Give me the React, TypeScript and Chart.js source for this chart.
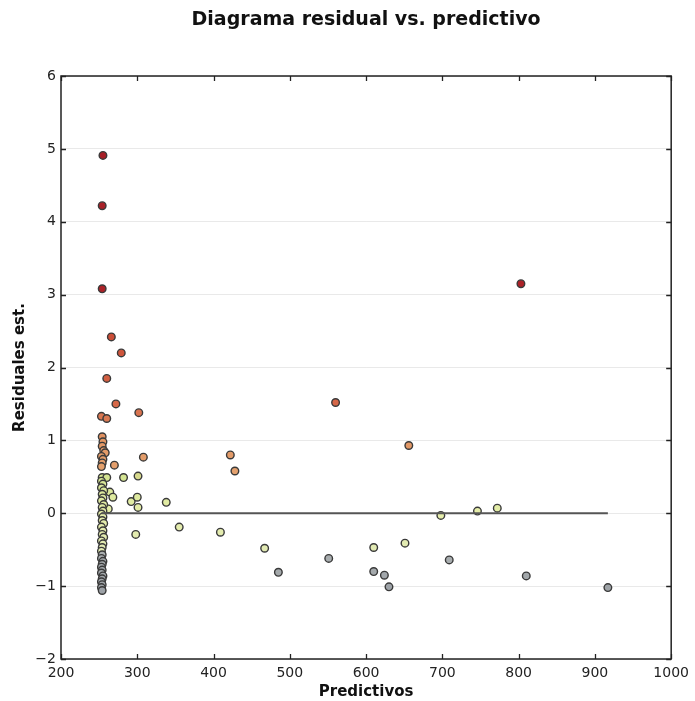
import React, { useEffect, useRef } from 'react';
import { Chart, registerables } from 'chart.js';

Chart.register(...registerables);

// ---- data ----
const predictedX = [
  255, 254, 254, 266, 279, 260, 272, 253, 260, 302,
  803, 560, 656, 422, 428, 308, 270, 301, 282, 264,
  268, 292, 300, 301, 262, 338, 355, 298, 409, 467,
  485, 551, 610, 651, 610, 624, 630, 698, 746, 772,
  709, 810, 917,
  254, 255, 254, 256, 258, 253, 255, 254, 253,
  254, 260, 253, 255, 253, 256, 254, 255, 253, 256,
  254, 255, 253, 255, 254, 256, 253, 255, 254, 256,
  253, 255, 254, 253,
  254, 253, 255, 254, 253, 254, 253, 255, 254, 253,
  254, 253, 254,
];
const residualY = [
  4.91, 4.22, 3.08, 2.42, 2.2, 1.85, 1.5, 1.33, 1.3, 1.38,
  3.15, 1.52, 0.93, 0.8, 0.58, 0.77, 0.66, 0.51, 0.49, 0.29,
  0.22, 0.16, 0.22, 0.08, 0.06, 0.15, -0.19, -0.29, -0.26, -0.48,
  -0.81, -0.62, -0.47, -0.41, -0.8, -0.85, -1.01, -0.03, 0.03, 0.07,
  -0.64, -0.86, -1.02,
  1.05, 0.98, 0.92, 0.86, 0.83, 0.78, 0.74, 0.69, 0.64,
  0.49, 0.49, 0.44, 0.4, 0.35, 0.31, 0.26, 0.21, 0.17, 0.12,
  0.08, 0.03, -0.01, -0.05, -0.1, -0.14, -0.19, -0.24, -0.29, -0.33,
  -0.38, -0.42, -0.47, -0.52,
  -0.57, -0.62, -0.66, -0.7, -0.74, -0.78, -0.82, -0.86, -0.9, -0.94,
  -0.98, -1.02, -1.06,
];
const zeroLineX = [253, 917];
const zeroLineY = [0, 0];
const xTickValues = [200, 300, 400, 500, 600, 700, 800, 900, 1000];
const yTickValues = [-2, -1, 0, 1, 2, 3, 4, 5, 6];

const TITLE = 'Diagrama residual vs. predictivo';
const X_TITLE = 'Predictivos';
const Y_TITLE = 'Residuales est.';

const FONT = 'DejaVu Sans';

// colour map (residual -> fill colour)
const cmapStops: [number, [number, number, number]][] = [
  [-1.1, [156, 161, 166]],
  [-0.56, [170, 175, 176]],
  [-0.52, [226, 234, 180]],
  [0.0, [230, 238, 170]],
  [0.5, [212, 228, 146]],
  [0.56, [228, 162, 110]],
  [1.0, [226, 150, 100]],
  [1.5, [214, 104, 72]],
  [2.4, [204, 80, 56]],
  [3.0, [172, 34, 40]],
  [5.0, [166, 30, 38]],
];
function colorFor(v: number): string {
  if (v <= cmapStops[0][0]) {
    const c = cmapStops[0][1];
    return `rgb(${c[0]},${c[1]},${c[2]})`;
  }
  for (let i = 1; i < cmapStops.length; i++) {
    const [v1, c1] = cmapStops[i];
    const [v0, c0] = cmapStops[i - 1];
    if (v <= v1) {
      const t = (v - v0) / (v1 - v0);
      const c = c0.map((a, k) => Math.round(a + (c1[k] - a) * t));
      return `rgb(${c[0]},${c[1]},${c[2]})`;
    }
  }
  const c = cmapStops[cmapStops.length - 1][1];
  return `rgb(${c[0]},${c[1]},${c[2]})`;
}

const boxTicksPlugin = {
  id: 'boxTicks',
  afterDatasetsDraw(chart: any) {
    const { ctx, chartArea, scales } = chart;
    const { left, right, top, bottom } = chartArea;
    const len = 5;
    ctx.save();
    ctx.strokeStyle = '#222';
    ctx.lineWidth = 1.3;
    ctx.beginPath();
    scales.x.ticks.forEach((t: any) => {
      const px = Math.round(scales.x.getPixelForValue(t.value)) + 0.5;
      ctx.moveTo(px, bottom);
      ctx.lineTo(px, bottom - len);
      ctx.moveTo(px, top);
      ctx.lineTo(px, top + len);
    });
    scales.y.ticks.forEach((t: any) => {
      const py = Math.round(scales.y.getPixelForValue(t.value)) + 0.5;
      ctx.moveTo(left, py);
      ctx.lineTo(left + len, py);
      ctx.moveTo(right, py);
      ctx.lineTo(right - len, py);
    });
    ctx.stroke();
    ctx.lineWidth = 1.5;
    ctx.strokeRect(left, top, right - left, bottom - top);
    // title centred over the plot area
    ctx.fillStyle = '#111';
    ctx.font = `bold 19px "${FONT}"`;
    ctx.textAlign = 'center';
    ctx.textBaseline = 'middle';
    ctx.fillText(TITLE, (left + right) / 2, 20);
    ctx.restore();
  },
};

export default function App() {
  const canvasRef = useRef<HTMLCanvasElement | null>(null);

  useEffect(() => {
    if (!canvasRef.current) return;
    const points = predictedX.map((x, i) => ({ x, y: residualY[i] }));
    const line = zeroLineX.map((x, i) => ({ x, y: zeroLineY[i] }));
    const chart = new Chart(canvasRef.current, {
      type: 'scatter',
      data: {
        datasets: [
          {
            type: 'line',
            data: line,
            borderColor: '#555555',
            borderWidth: 2,
            pointRadius: 0,
            fill: false,
            order: 0,
          } as any,
          {
            type: 'scatter',
            data: points,
            pointRadius: 3.8,
            pointBorderWidth: 1.4,
            pointBorderColor: '#3a3a3a',
            pointBackgroundColor: (c: any) => colorFor(c.raw ? c.raw.y : 0),
            order: 1,
          } as any,
        ],
      },
      options: {
        responsive: false,
        animation: false,
        devicePixelRatio: 1,
        layout: { padding: { left: 0, right: 23, top: 76, bottom: 0 } },
        plugins: {
          legend: { display: false },
          tooltip: { enabled: false },
          title: { display: false },
        },
        scales: {
          x: {
            type: 'linear',
            min: 200,
            max: 1000,
            afterBuildTicks: (s: any) => {
              s.ticks = xTickValues.map((v) => ({ value: v }));
            },
            afterFit: (s: any) => {
              s.height = 42;
            },
            grid: { display: false, drawTicks: false },
            border: { display: false },
            ticks: {
              color: '#222',
              padding: 6,
              maxRotation: 0,
              autoSkip: false,
              font: { family: FONT, size: 14 },
              callback: (v: any) => String(v),
            },
            title: {
              display: true,
              text: X_TITLE,
              color: '#111',
              font: { family: FONT, size: 15, weight: 'bold', lineHeight: 1.2 },
              padding: { top: 0, bottom: 0 },
            },
          },
          y: {
            type: 'linear',
            min: -2,
            max: 6,
            afterBuildTicks: (s: any) => {
              s.ticks = yTickValues.map((v) => ({ value: v }));
            },
            afterFit: (s: any) => {
              s.width = 61;
            },
            grid: { color: '#e9e9e9', lineWidth: 1, drawTicks: false },
            border: { display: false },
            ticks: {
              color: '#222',
              padding: 5,
              autoSkip: false,
              font: { family: FONT, size: 14 },
              callback: (v: any) => (Number(v) < 0 ? '\u2212' + Math.abs(Number(v)) : String(v)),
            },
            title: {
              display: true,
              text: Y_TITLE,
              color: '#111',
              font: { family: FONT, size: 15, weight: 'bold', lineHeight: 1.2 },
              padding: { top: 11, bottom: 0 },
            },
          },
        },
      },
      plugins: [boxTicksPlugin],
    });
    return () => chart.destroy();
  }, []);

  return (
    <div style={{ position: 'absolute', left: 0, top: 0, width: 695, height: 701, background: '#fff' }}>
      <canvas ref={canvasRef} width={695} height={701} style={{ width: 695, height: 701, display: 'block' }} />
    </div>
  );
}
